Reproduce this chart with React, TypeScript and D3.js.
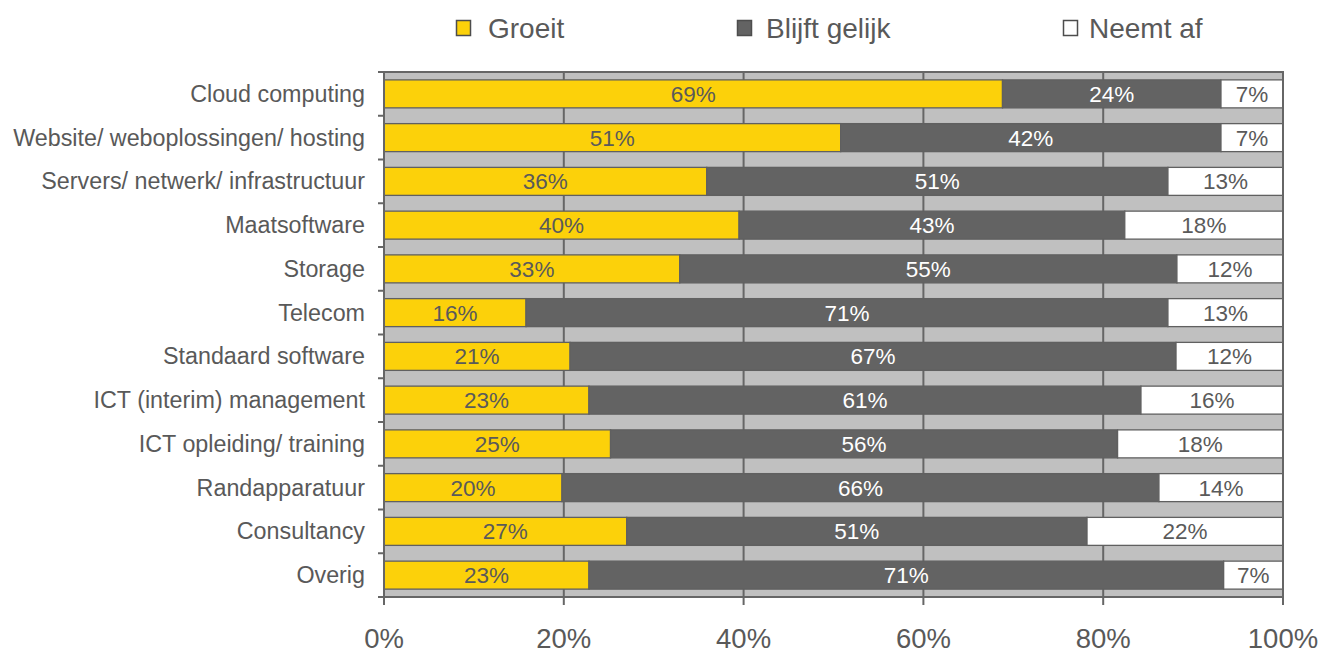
import React from "react";
import * as d3 from "d3";

const categories = [
  "Cloud computing",
  "Website/ weboplossingen/ hosting",
  "Servers/ netwerk/ infrastructuur",
  "Maatsoftware",
  "Storage",
  "Telecom",
  "Standaard software",
  "ICT (interim) management",
  "ICT opleiding/ training",
  "Randapparatuur",
  "Consultancy",
  "Overig",
];
const groeit = [68.8, 50.8, 35.9, 39.5, 32.9, 15.8, 20.7, 22.8, 25.2, 19.8, 27.0, 22.8];
const blijftGelijk = [24.3, 42.3, 51.3, 42.9, 55.3, 71.4, 67.4, 61.4, 56.4, 66.4, 51.2, 70.6];
const neemtAf = [6.9, 6.9, 12.8, 17.6, 11.8, 12.8, 11.9, 15.8, 18.4, 13.8, 21.8, 6.6];
const seriesNames = ["Groeit", "Blijft gelijk", "Neemt af"];
const xTicks = [0, 20, 40, 60, 80, 100];

const W = 1325;
const H = 653;
const M = { left: 384, right: 1283, top: 72, bottom: 597 };
const COLORS = ["#FCD10A", "#636363", "#FFFFFF"];
const LABEL_COLORS = ["#5a5a5a", "#FFFFFF", "#5a5a5a"];
const TEXT = "#595959";
const LINE = "#666666";
const FONT = "'Liberation Sans', Arial, sans-serif";

export default function App() {
  const x = d3.scaleLinear().domain([0, 100]).range([M.left, M.right]);
  const y = d3.scaleBand<string>().domain(categories).range([M.top, M.bottom]).padding(0);
  const barH = y.bandwidth() * 0.64;

  const rows = categories.map((c, i) => ({ c, vals: [groeit[i], blijftGelijk[i], neemtAf[i]] }));
  const stack = d3.stack<any>().keys(["0", "1", "2"]).value((d: any, k: string) => d.vals[+k]);
  const stacked = stack(rows as any);

  const legendX = [456, 737, 1063];
  const legendTextX = [488, 766, 1089];

  return (
    <svg width={W} height={H} style={{ position: "absolute", left: 0, top: 0, background: "#fff" }} fontFamily={FONT}>
      {/* legend */}
      {seriesNames.map((s, i) => (
        <g key={s}>
          <rect x={legendX[i] + 0.5} y={20.5} width={14} height={15} fill={COLORS[i]} stroke="#4d4d4d" strokeWidth={1.5} />
          <text x={legendTextX[i]} y={37.5} fontSize={28} fill={TEXT}>
            {s}
          </text>
        </g>
      ))}

      {/* plot background */}
      <rect x={M.left} y={M.top} width={M.right - M.left} height={M.bottom - M.top} fill="#c0c0c0" />
      {/* gridlines */}
      {xTicks.slice(1, -1).map((t) => (
        <line key={t} x1={x(t)} x2={x(t)} y1={M.top} y2={M.bottom} stroke={LINE} strokeWidth={2} />
      ))}

      {/* bars */}
      {stacked.map((layer, si) =>
        layer.map((d: any, i: number) => {
          const cy = (y(categories[i]) as number) + y.bandwidth() / 2;
          const x0 = x(d[0]);
          const x1 = x(d[1]);
          return (
            <g key={si + "-" + i}>
              <rect x={x0} y={cy - barH / 2} width={x1 - x0} height={barH} fill={COLORS[si]} stroke="#606060" strokeWidth={1.3} />
              <text x={(x0 + x1) / 2} y={cy + 8} textAnchor="middle" fontSize={22.5} fill={LABEL_COLORS[si]}>
                {Math.round(d[1] - d[0]) + "%"}
              </text>
            </g>
          );
        })
      )}

      {/* plot border */}
      <rect x={M.left} y={M.top} width={M.right - M.left} height={M.bottom - M.top} fill="none" stroke={LINE} strokeWidth={2} />

      {/* category ticks */}
      {categories.map((c) => (
        <line key={"t" + c} x1={M.left - 6} x2={M.left} y1={y(c) as number} y2={y(c) as number} stroke={LINE} strokeWidth={2} />
      ))}
      <line x1={M.left - 6} x2={M.left} y1={M.bottom} y2={M.bottom} stroke={LINE} strokeWidth={2} />

      {/* category labels */}
      {categories.map((c) => (
        <text key={"l" + c} x={M.left - 19} y={(y(c) as number) + y.bandwidth() / 2 + 8} textAnchor="end" fontSize={23.3} fill={TEXT}>
          {c}
        </text>
      ))}

      {/* x ticks */}
      {xTicks.map((t) => (
        <g key={"x" + t}>
          <line x1={x(t)} x2={x(t)} y1={M.bottom} y2={M.bottom + 8} stroke={LINE} strokeWidth={2} />
          <text x={x(t)} y={648} textAnchor="middle" fontSize={27.5} fill={TEXT}>
            {t + "%"}
          </text>
        </g>
      ))}
    </svg>
  );
}
